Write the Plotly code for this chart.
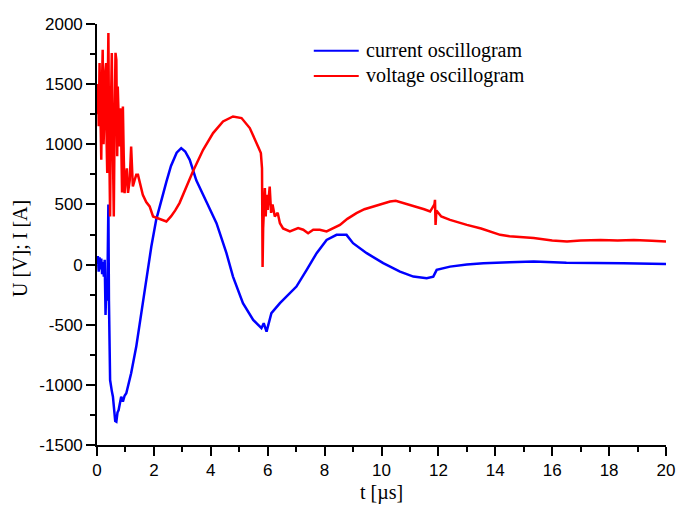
import plotly.graph_objects as go

# Current oscillogram: time [µs] and current [A]
t_current = [0.00, 0.03, 0.06, 0.09, 0.12, 0.15, 0.18, 0.21, 0.24, 0.27, 0.30, 0.33, 0.36,
             0.38, 0.40, 0.42, 0.46, 0.52, 0.56, 0.60, 0.64, 0.68, 0.72, 0.76, 0.80, 0.85,
             0.91, 0.97, 1.03, 1.20, 1.38, 1.56, 1.73, 1.91, 2.08, 2.26, 2.44, 2.60, 2.80,
             2.96, 3.10, 3.26, 3.49, 3.85, 4.20, 4.55, 4.78, 5.13, 5.49, 5.78, 5.86, 5.96,
             6.13, 6.43, 6.78, 7.01, 7.37, 7.72, 8.07, 8.42, 8.77, 9.00, 9.48, 10.06, 10.65,
             11.12, 11.59, 11.82, 11.94, 12.41, 13.00, 13.58, 14.50, 15.35, 16.50, 17.50,
             18.50, 20.00]
i_current = [0, 70, -60, 60, -40, 50, -80, 20, -100, 40, -420, -150, -300,
             500, 500, -300, -960, -1050, -1098, -1200, -1300, -1306, -1230, -1209, -1150, -1098,
             -1140, -1090, -1070, -904, -682, -404, -127, 150, 372, 538, 690, 820, 930,
             968, 940, 871, 700, 520, 344, 95, -100, -321, -460, -529, -488, -557,
             -404, -321, -238, -183, -44, 95, 205, 247, 247, 178, 95, 12, -58,
             -100, -113, -100, -44, -17, 0, 12, 20, 25, 15, 15,
             10, 5]

# Voltage oscillogram: time [µs] and voltage [V]
t_voltage = [0.00, 0.02, 0.04, 0.06, 0.09, 0.12, 0.15, 0.18, 0.20, 0.23, 0.26, 0.29, 0.32,
             0.34, 0.36, 0.38, 0.40, 0.42, 0.44, 0.46, 0.49, 0.52, 0.55, 0.57, 0.59, 0.62,
             0.65, 0.68, 0.71, 0.73, 0.76, 0.79, 0.82, 0.85, 0.88, 0.91, 0.94, 0.97, 1.00,
             1.05, 1.09, 1.15, 1.20, 1.26, 1.32, 1.38, 1.44, 1.50, 1.61, 1.73, 1.85, 1.97,
             2.08, 2.26, 2.44, 2.60, 2.75, 2.90, 3.10, 3.37, 3.73, 4.08, 4.43, 4.78, 5.08,
             5.37, 5.66, 5.76, 5.80, 5.82, 5.84, 5.90, 5.93, 5.96, 6.00, 6.07, 6.12, 6.17,
             6.25, 6.35, 6.43, 6.54, 6.78, 7.07, 7.25, 7.42, 7.60, 7.83, 8.07, 8.30, 8.54,
             8.80, 9.12, 9.40, 9.71, 10.00, 10.30, 10.50, 10.77, 11.00, 11.24, 11.50, 11.71,
             11.86, 11.88, 11.90, 11.93, 12.10, 12.41, 12.70, 13.00, 13.50, 14.00, 14.17,
             14.50, 15.00, 15.35, 16.00, 16.52, 17.00, 17.70, 18.30, 18.87, 19.50, 20.00]
u_voltage = [1398, 1250, 1500, 1150, 1675, 1100, 871, 1550, 1786, 1000, 1204, 1600, 1675,
             1000, 762, 1500, 1925, 1200, 900, 400, 1300, 1759, 1100, 700, 400, 1200,
             1760, 1703, 900, 1481, 1100, 982, 1300, 1065, 600, 1315, 900, 594, 700,
             800, 596, 700, 982, 649, 700, 746, 746, 677, 580, 520, 483, 400,
             390, 370, 358, 400, 450, 511, 620, 774, 954, 1093, 1190, 1231, 1218,
             1135, 982, 927, 800, -20, 300, 636, 400, 580, 455, 649, 430, 500,
             400, 430, 344, 300, 275, 303, 290, 261, 290, 289, 275, 300, 330,
             380, 428, 460, 483, 505, 524, 530, 511, 500, 483, 460, 441,
             500, 538, 330, 450, 400, 372, 350, 330, 300, 260, 247,
             235, 225, 220, 200, 191, 200, 205, 200, 205, 198, 191]

x_ticks = [0, 2, 4, 6, 8, 10, 12, 14, 16, 18, 20]
y_ticks = [-1500, -1000, -500, 0, 500, 1000, 1500, 2000]

legend_names = ["current oscillogram", "voltage oscillogram"]
legend_colors = ["#0000ff", "#ff0000"]

fig = go.Figure()
fig.add_trace(go.Scatter(x=t_current, y=i_current, mode="lines",
                         line=dict(color=legend_colors[0], width=2.5),
                         name=legend_names[0], showlegend=False))
fig.add_trace(go.Scatter(x=t_voltage, y=u_voltage, mode="lines",
                         line=dict(color=legend_colors[1], width=2.5),
                         name=legend_names[1], showlegend=False))

axis_common = dict(
    showline=True, linecolor="black", linewidth=1.6,
    showgrid=False, zeroline=False, automargin=False,
    ticks="outside", ticklen=9, tickwidth=1.6, tickcolor="black",
    tickfont=dict(family="Liberation Sans, Arial, sans-serif", size=17, color="black"),
    minor=dict(ticks="outside", ticklen=5, tickwidth=1.6, tickcolor="black", showgrid=False),
)

fig.update_xaxes(range=[0, 20], tickvals=x_ticks, ticktext=[str(v) for v in x_ticks],
                 minor_dtick=1, **axis_common)
fig.update_yaxes(range=[-1500, 2000], tickvals=y_ticks, ticktext=[str(v) for v in y_ticks],
                 minor_dtick=250, **axis_common)

serif = dict(family="Liberation Serif, Times New Roman, serif", size=20, color="black")

annotations = [
    dict(text="t [µs]", xref="paper", yref="paper", x=0.5, y=-0.114,
         xanchor="center", yanchor="middle", showarrow=False, font=serif),
    dict(text="U [V]; I [A]", xref="paper", yref="paper", x=-0.135, y=0.466,
         xanchor="center", yanchor="middle", textangle=-90, showarrow=False, font=serif),
]
shapes = []
legend_rows_y = [0.9366, 0.8765]
for name, color, ry in zip(legend_names, legend_colors, legend_rows_y):
    shapes.append(dict(type="line", xref="paper", yref="paper",
                       x0=0.381, x1=0.460, y0=ry, y1=ry,
                       line=dict(color=color, width=2)))
    annotations.append(dict(text=name, xref="paper", yref="paper", x=0.469, y=ry,
                            xanchor="left", yanchor="middle", showarrow=False, font=serif))

fig.update_layout(
    width=676, height=509,
    margin=dict(l=97, r=10, t=24, b=64),
    plot_bgcolor="white", paper_bgcolor="white",
    annotations=annotations, shapes=shapes,
    showlegend=False,
)

fig.write_html("out.html")
